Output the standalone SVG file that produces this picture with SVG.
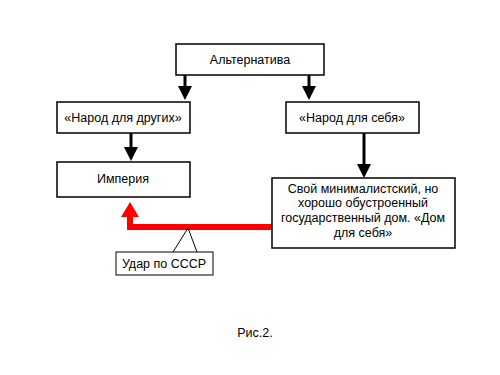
<svg xmlns="http://www.w3.org/2000/svg" width="500" height="375" viewBox="0 0 500 375">
<defs>
<style>
.box{fill:#fff;stroke:#000;stroke-width:1.5}
.t{font-family:"Liberation Sans",Arial,sans-serif;font-size:12.5px;fill:#000;text-anchor:middle}
.a{stroke:#000;stroke-width:3;fill:none}
</style>
</defs>
<rect width="500" height="375" fill="#fff"/>
<g id="connectors">
<line class="a" x1="185" y1="75" x2="185" y2="87" />
<path d="M178,86 L192,86 L185,100 Z" fill="#000"/>
<line class="a" x1="309" y1="75" x2="309" y2="87" />
<path d="M302,86 L316,86 L309,100 Z" fill="#000"/>
<line class="a" x1="131" y1="133" x2="131" y2="148" />
<path d="M124,147 L138,147 L131,161 Z" fill="#000"/>
<line class="a" x1="364" y1="133" x2="364" y2="165" />
<path d="M357,164 L371,164 L364,178 Z" fill="#000"/>
<path d="M272,227 L130,227 L130,216" fill="none" stroke="#f00" stroke-width="6"/>
<path d="M121,217 L139,217 L130,202 Z" fill="#f00"/>
</g>
<g id="n1"><rect class="box" x="176" y="44" width="148" height="31"/><text class="t" x="250" y="64">Альтернатива</text></g>
<g id="n2"><rect class="box" x="57" y="102" width="133" height="31"/><text class="t" x="123" y="122">«Народ для других»</text></g>
<g id="n3"><rect class="box" x="286" y="102" width="133" height="31"/><text class="t" x="352" y="122">«Народ для себя»</text></g>
<g id="n4"><rect class="box" x="57" y="162" width="133" height="35"/><text class="t" x="123" y="183">Империя</text></g>
<g id="n5"><rect class="box" x="272" y="178" width="183" height="70"/>
<text class="t" x="363" y="193">Свой минималистский, но</text>
<text class="t" x="363" y="207">хорошо обустроенный</text>
<text class="t" x="363" y="222">государственный дом. «Дом</text>
<text class="t" x="363" y="237">для себя»</text></g>
<g id="callout"><path d="M173,252 L188,228 L197,252" fill="none" stroke="#000" stroke-width="1"/>
<rect x="116" y="252" width="97" height="23" fill="#fff" stroke="#000" stroke-width="1"/>
<text class="t" x="164" y="268">Удар по СССР</text></g>
<text class="t" x="255" y="337">Рис.2.</text>
</svg>
